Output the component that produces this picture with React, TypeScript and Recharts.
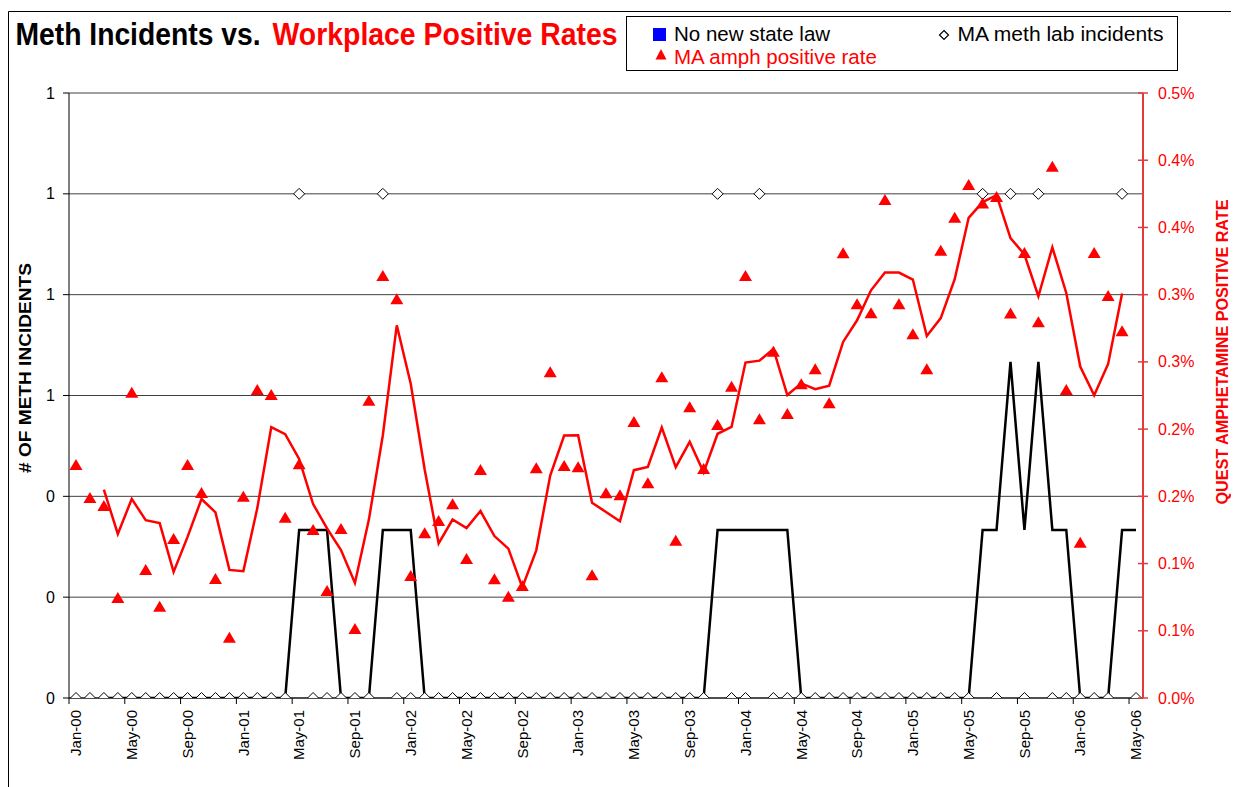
import React from "react";
import { ComposedChart, Line, XAxis, YAxis, CartesianGrid } from "recharts";

const FONT = "'Liberation Sans', Arial, Helvetica, sans-serif";

// Categories (monthly)
const months = [
  "Jan-00","Feb-00","Mar-00","Apr-00","May-00","Jun-00","Jul-00","Aug-00","Sep-00","Oct-00","Nov-00","Dec-00",
  "Jan-01","Feb-01","Mar-01","Apr-01","May-01","Jun-01","Jul-01","Aug-01","Sep-01","Oct-01","Nov-01","Dec-01",
  "Jan-02","Feb-02","Mar-02","Apr-02","May-02","Jun-02","Jul-02","Aug-02","Sep-02","Oct-02","Nov-02","Dec-02",
  "Jan-03","Feb-03","Mar-03","Apr-03","May-03","Jun-03","Jul-03","Aug-03","Sep-03","Oct-03","Nov-03","Dec-03",
  "Jan-04","Feb-04","Mar-04","Apr-04","May-04","Jun-04","Jul-04","Aug-04","Sep-04","Oct-04","Nov-04","Dec-04",
  "Jan-05","Feb-05","Mar-05","Apr-05","May-05","Jun-05","Jul-05","Aug-05","Sep-05","Oct-05","Nov-05","Dec-05",
  "Jan-06","Feb-06","Mar-06","Apr-06","May-06",
];

// MA meth lab incidents (left axis)
const labIncidents = [
  0,0,0,0,0,0,0,0,0,0,0,0,
  0,0,0,0,1,0,0,0,0,0,1,0,
  0,0,0,0,0,0,0,0,0,0,0,0,
  0,0,0,0,0,0,0,0,0,0,1,0,
  0,1,0,0,0,0,0,0,0,0,0,0,
  0,0,0,0,0,1,0,1,0,1,0,0,
  0,0,0,1,0,
];

// MA amph positive rate, in percent (right axis)
const amphPositiveRate: (number | null)[] = [
  0.1733,0.1488,0.1428,0.0744,0.2271,0.0952,0.0679,0.1183,0.1733,0.1525,0.0885,0.0449,
  0.1497,0.2291,0.2254,0.1341,0.1738,0.1250,0.0796,0.1257,0.0513,0.2211,0.3139,0.2966,
  0.0907,0.1225,0.1317,0.1441,0.1034,0.1696,0.0883,0.0753,0.0833,0.1709,0.2423,0.1726,
  0.1716,0.0913,0.1523,0.1508,0.2053,0.1597,0.2385,0.1170,0.2162,0.1703,0.2031,0.2315,
  0.3139,0.2073,0.2576,0.2112,0.2333,0.2445,0.2192,0.3308,0.2928,0.2861,0.3704,0.2928,
  0.2705,0.2445,0.3327,0.3572,0.3816,0.3678,0.3726,0.2860,0.3310,0.2795,0.3951,0.2291,
  0.1155,0.3310,0.2990,0.2727,null,
];

// Tick values & labels
const xLabelIndexes = [0,4,8,12,16,20,24,28,32,36,40,44,48,52,56,60,64,68,72,76];
const xTickLabels = [
  "Jan-00","May-00","Sep-00","Jan-01","May-01","Sep-01","Jan-02","May-02","Sep-02","Jan-03",
  "May-03","Sep-03","Jan-04","May-04","Sep-04","Jan-05","May-05","Sep-05","Jan-06","May-06",
];
const xBoundaryTicks = [-0.5,3.5,7.5,11.5,15.5,19.5,23.5,27.5,31.5,35.5,39.5,43.5,47.5,51.5,55.5,59.5,63.5,67.5,71.5,75.5];
const leftTicks = [0, 0.2, 0.4, 0.6, 0.8, 1.0, 1.2];
const leftTickLabels = ["0","0","0","1","1","1","1"];
const rightTicks = [0, 0.05, 0.1, 0.15, 0.2, 0.25, 0.3, 0.35, 0.4, 0.45];
const rightTickLabels = ["0.0%","0.1%","0.1%","0.2%","0.2%","0.3%","0.3%","0.4%","0.4%","0.5%"];

// 3-period moving average trendline (as in the original chart)
function movingAverage(vals: (number | null)[], period: number): (number | null)[] {
  return vals.map((_, i) => {
    if (i < period - 1) return null;
    const w = vals.slice(i - period + 1, i + 1);
    if (w.some((v) => v == null)) return null;
    return (w as number[]).reduce((a, b) => a + b, 0) / period;
  });
}

const incidentsMA = movingAverage(labIncidents, 3);
const rateMA = movingAverage(amphPositiveRate, 3);

const rows = months.map((m, i) => ({
  idx: i,
  month: m,
  incidents: labIncidents[i],
  rate: amphPositiveRate[i],
  incMA: incidentsMA[i],
  rateMA: rateMA[i],
}));

const allXTicks = [...xBoundaryTicks, ...xLabelIndexes].sort((a, b) => a - b);

const XTick = (props: any) => {
  const { x, y, payload } = props;
  const v = payload.value;
  if (!Number.isInteger(v)) {
    return <line x1={x} x2={x} y1={y - 12} y2={y - 6} stroke="#000" strokeWidth={1} />;
  }
  const k = xLabelIndexes.indexOf(v);
  const label = k >= 0 ? xTickLabels[k] : "";
  return (
    <text
      x={x}
      y={y}
      transform={`rotate(-90 ${x} ${y})`}
      textAnchor="end"
      dy="0.35em"
      fontSize={15}
      fontFamily={FONT}
      fill="#000"
    >
      {label}
    </text>
  );
};

const LeftTick = (props: any) => {
  const { x, y, payload } = props;
  const k = leftTicks.findIndex((t) => Math.abs(t - payload.value) < 1e-6);
  return (
    <text x={x} y={y} textAnchor="end" dy="0.35em" fontSize={16} fontFamily={FONT} fill="#000">
      {k >= 0 ? leftTickLabels[k] : ""}
    </text>
  );
};

const RightTick = (props: any) => {
  const { x, y, payload } = props;
  const k = rightTicks.findIndex((t) => Math.abs(t - payload.value) < 1e-6);
  return (
    <g>
      <line x1={x - 20} x2={x - 10} y1={y} y2={y} stroke="#E03C3C" strokeWidth={1.5} />
      <text x={x} y={y} textAnchor="start" dy="0.35em" fontSize={16} fontFamily={FONT} fill="#FF0000">
        {k >= 0 ? rightTickLabels[k] : ""}
      </text>
    </g>
  );
};

const DiamondDot = (p: any) => {
  const { cx, cy, index, value } = p;
  if (cx == null || cy == null || value == null || Number.isNaN(cy)) return <g key={`dm-${index}`} />;
  const r = 5.5;
  return (
    <path
      key={`dm-${index}`}
      d={`M${cx},${cy - r}L${cx + r},${cy}L${cx},${cy + r}L${cx - r},${cy}Z`}
      fill="#fff"
      stroke="#000"
      strokeWidth={1}
    />
  );
};

const TriangleDot = (p: any) => {
  const { cx, cy, index, value } = p;
  if (cx == null || cy == null || value == null || Number.isNaN(cy)) return <g key={`tr-${index}`} />;
  return (
    <path
      key={`tr-${index}`}
      d={`M${cx},${cy - 6}L${cx + 6.5},${cy + 5}L${cx - 6.5},${cy + 5}Z`}
      fill="#FF0000"
      stroke="none"
    />
  );
};

export default function App() {
  const W = 1231;
  const H = 779;
  return (
    <div style={{ position: "relative", width: W, height: H, background: "#fff" }}>
      <ComposedChart
        width={W}
        height={H}
        data={rows}
        margin={{ top: 85, right: 0, bottom: 0, left: 0 }}
      >
        <CartesianGrid
          xAxisId="x"
          yAxisId="left"
          vertical={false}
          stroke="#404040"
          strokeWidth={1}
        />
        <XAxis
          xAxisId="x"
          dataKey="idx"
          type="number"
          domain={[-0.5, 76.5]}
          ticks={allXTicks}
          interval={0}
          height={89}
          tickSize={6}
          tickMargin={6}
          tickLine={false}
          axisLine={{ stroke: "#000", strokeWidth: 1 }}
          tick={<XTick />}
        />
        <YAxis
          yAxisId="left"
          width={61}
          domain={[0, 1.2]}
          ticks={leftTicks}
          interval={0}
          tickSize={6}
          tickMargin={8}
          axisLine={{ stroke: "#000", strokeWidth: 1 }}
          tickLine={{ stroke: "#000", strokeWidth: 1 }}
          tick={<LeftTick />}
          allowDataOverflow
        />
        <YAxis
          yAxisId="right"
          orientation="right"
          width={96}
          domain={[0, 0.45]}
          ticks={rightTicks}
          interval={0}
          tickSize={5}
          tickMargin={10}
          axisLine={{ stroke: "#E03C3C", strokeWidth: 2 }}
          tickLine={false}
          tick={<RightTick />}
          allowDataOverflow
        />
        <Line
          xAxisId="x"
          yAxisId="left"
          dataKey="incidents"
          stroke="none"
          strokeWidth={0}
          dot={DiamondDot}
          activeDot={false}
          isAnimationActive={false}
        />
        <Line
          xAxisId="x"
          yAxisId="right"
          dataKey="rate"
          stroke="none"
          strokeWidth={0}
          dot={TriangleDot}
          activeDot={false}
          isAnimationActive={false}
        />
        <Line
          xAxisId="x"
          yAxisId="left"
          dataKey="incMA"
          type="linear"
          stroke="#000"
          strokeWidth={2.5}
          dot={false}
          activeDot={false}
          isAnimationActive={false}
        />
        <Line
          xAxisId="x"
          yAxisId="right"
          dataKey="rateMA"
          type="linear"
          stroke="#FF0000"
          strokeWidth={2.5}
          dot={false}
          activeDot={false}
          isAnimationActive={false}
        />
      </ComposedChart>

      <svg
        width={W}
        height={H}
        style={{ position: "absolute", left: 0, top: 0, pointerEvents: "none" }}
      >
        {/* outer frame */}
        <line x1={0.5} y1={3.5} x2={W} y2={3.5} stroke="#000" strokeWidth={1} />
        <line x1={0.5} y1={3.5} x2={0.5} y2={H} stroke="#000" strokeWidth={1} />

        {/* title */}
        <text
          x={7.5}
          y={37}
          fontSize={31}
          fontWeight="bold"
          fontFamily={FONT}
          fill="#000"
          textLength={245}
          lengthAdjust="spacingAndGlyphs"
        >
          Meth Incidents vs.
        </text>
        <text
          x={264.6}
          y={37}
          fontSize={31}
          fontWeight="bold"
          fontFamily={FONT}
          fill="#FF0000"
          textLength={345}
          lengthAdjust="spacingAndGlyphs"
        >
          Workplace Positive Rates
        </text>

        {/* legend */}
        <rect x={618.5} y={8.5} width={551} height={54} fill="#fff" stroke="#000" strokeWidth={1} />
        <rect x={645} y={20} width={13} height={13} fill="#0000FF" />
        <text x={666} y={33} fontSize={20.5} fontFamily={FONT} fill="#000">
          No new state law
        </text>
        <path d="M936,22.5L940.5,27L936,31.5L931.5,27Z" fill="#fff" stroke="#000" strokeWidth={1.2} />
        <text x={949.5} y={33} fontSize={20.5} fontFamily={FONT} fill="#000" textLength={206} lengthAdjust="spacingAndGlyphs">
          MA meth lab incidents
        </text>
        <path d="M653,41L658.5,51.5L647.5,51.5Z" fill="#FF0000" />
        <text x={666} y={55.6} fontSize={20.5} fontFamily={FONT} fill="#FF0000">
          MA amph positive rate
        </text>

        {/* axis titles */}
        <text
          x={17}
          y={360}
          transform="rotate(-90 17 360)"
          textAnchor="middle"
          dy="0.35em"
          fontSize={17}
          fontWeight="bold"
          fontFamily={FONT}
          fill="#000"
          textLength={210}
          lengthAdjust="spacingAndGlyphs"
        >
          # OF METH INCIDENTS
        </text>
        <text
          x={1214.6}
          y={344}
          transform="rotate(-90 1214.6 344)"
          textAnchor="middle"
          dy="0.35em"
          fontSize={16}
          fontWeight="bold"
          fontFamily={FONT}
          fill="#FF0000"
          textLength={305}
          lengthAdjust="spacingAndGlyphs"
        >
          QUEST AMPHETAMINE POSITIVE RATE
        </text>
      </svg>
    </div>
  );
}
